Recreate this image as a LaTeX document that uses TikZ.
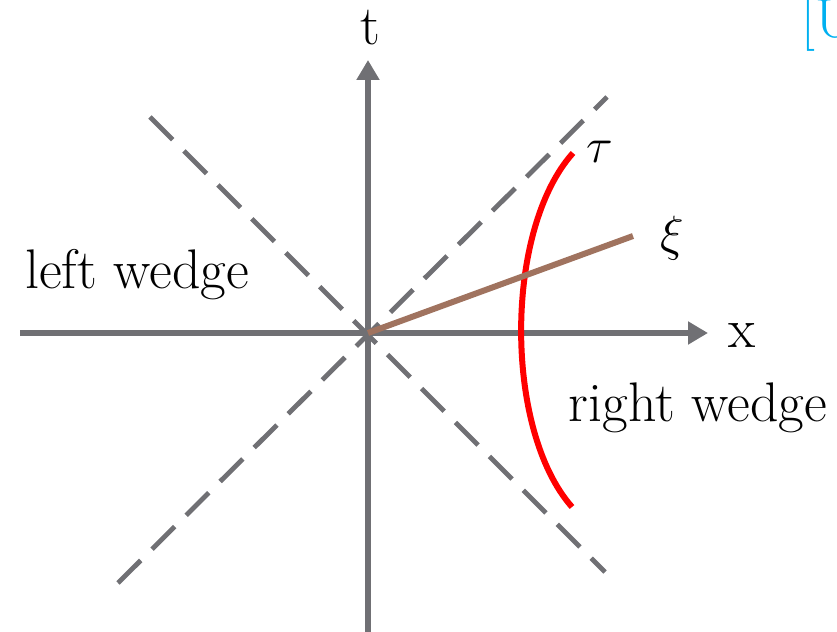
\documentclass[tikz,border=0pt]{standalone}
\usetikzlibrary{arrows.meta}
\definecolor{axisgray}{RGB}{112,112,116}
\definecolor{xibrown}{RGB}{160,115,95}
\definecolor{refcyan}{RGB}{0,176,240}
\begin{document}
\begin{tikzpicture}[x=0.5bp,y=-0.5bp,
  axisline/.style={draw=axisgray,line width=2.6bp,-{Triangle[width=11bp,length=10bp]}},
  coneline/.style={draw=axisgray,line width=2.4bp,dash pattern=on 16bp off 8bp},
  lbl/.style={inner sep=0pt,font=\fontsize{28}{32}\selectfont}]
\useasboundingbox (0,0) rectangle (837,632);
\coordinate (O) at (368,333);
\coordinate (xs) at (20,333);
\coordinate (xe) at (708,333);
\coordinate (ts) at (368,632);
\coordinate (te) at (368,60);
\coordinate (d1s) at (150,117);
\coordinate (d1e) at (605,572);
\coordinate (d2s) at (118,583);
\coordinate (d2e) at (607,97);
\coordinate (xiend) at (633,236);
\coordinate (taus) at (573,153);
\coordinate (taue) at (572,507);
\draw[coneline] (d1s) -- (d1e);
\draw[coneline] (d2s) -- (d2e);
\draw[axisline] (xs) -- (xe);
\draw[axisline] (ts) -- (te);
\draw[red,line width=3bp] (taus) .. controls (504,230) and (504,430) .. (taue);
\draw[xibrown,line width=3bp] (O) -- (xiend);
\node[lbl] (tl) at (370,28) {t};
\node[lbl] (xl) at (742,336) {x};
\node[lbl] (taul) at (600,152) {$\tau$};
\node[lbl] (xil) at (672,238) {$\xi$};
\node[lbl] (lw) at (137,275) {left wedge};
\node[lbl] (rw) at (698,408) {right wedge};
\node[lbl,anchor=west,text=refcyan] (ref) at (801,24) {[U};
\end{tikzpicture}
\end{document}
